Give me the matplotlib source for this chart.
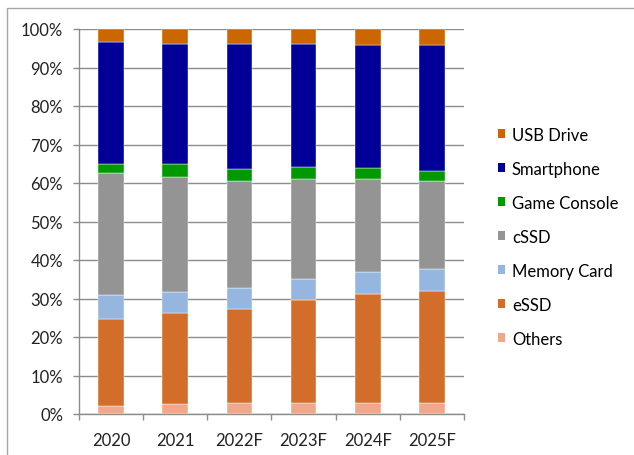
import matplotlib
matplotlib.use("Agg")
import matplotlib.pyplot as plt
from matplotlib.patches import Patch, Rectangle
import numpy as np

categories = ["2020", "2021", "2022F", "2023F", "2024F", "2025F"]
series_names = ["Others", "eSSD", "Memory Card", "cSSD", "Game Console", "Smartphone", "USB Drive"]
others = [2.2, 2.6, 2.9, 2.9, 2.9, 2.9]
essd = [22.6, 23.7, 24.5, 26.7, 28.3, 29.0]
memory_card = [6.1, 5.4, 5.4, 5.4, 5.6, 5.7]
cssd = [31.7, 29.9, 27.6, 26.1, 24.3, 22.8]
game_console = [2.4, 3.3, 3.3, 3.1, 2.8, 2.6]
smartphone = [31.5, 31.2, 32.4, 31.9, 31.9, 32.8]
usb_drive = [3.5, 3.9, 3.9, 3.9, 4.2, 4.2]
y_ticks = [0, 10, 20, 30, 40, 50, 60, 70, 80, 90, 100]
y_tick_labels = [f"{v}%" for v in y_ticks]

series = [others, essd, memory_card, cssd, game_console, smartphone, usb_drive]
colors = ["#F0A78A", "#D26E2A", "#95B7DF", "#949494", "#009900", "#000099", "#CC6600"]

plt.rcParams['font.family'] = ['Lato', 'DejaVu Sans']

fig = plt.figure(figsize=(6.34, 4.56), dpi=100)
fig.patches.append(Rectangle((7/634, -0.1), 1.0, (456-9)/456 + 0.1, transform=fig.transFigure,
                             fill=False, edgecolor="#A6A6A6", linewidth=1.0))
ax = fig.add_axes([79/634, 41/456, 385/634, 385/456])

x = np.arange(len(categories))
bottom = np.zeros(len(categories))
for name, vals, c in zip(series_names, series, colors):
    ax.bar(x, vals, bottom=bottom, width=0.4, color=c, label=name, zorder=3,
           edgecolor="white", linewidth=0.3)
    bottom += np.array(vals)

ax.set_xlim(-0.5, len(categories) - 0.5)
ax.set_ylim(0, 100)
ax.set_yticks(y_ticks)
ax.set_yticklabels(y_tick_labels, fontsize=12, color="#222222")
ax.yaxis.grid(True, color="#8C8C8C", linewidth=1.0, zorder=0)
ax.tick_params(axis='y', length=4.5, color="#8C8C8C", width=1.0, pad=7)

ax.set_xticks(x)
ax.set_xticklabels(categories, fontsize=12, color="#222222")
ax.set_xticks(np.arange(-0.5, len(categories), 1.0), minor=True)
ax.tick_params(axis='x', which='major', length=0, pad=13)
ax.tick_params(axis='x', which='minor', length=4.5, color="#8C8C8C", width=1.0)

for s in ["top", "right"]:
    ax.spines[s].set_visible(False)
for s in ["left", "bottom"]:
    ax.spines[s].set_color("#8C8C8C")
    ax.spines[s].set_linewidth(1.0)

handles = [Patch(facecolor=c, edgecolor="none", label=n) for n, c in zip(series_names, colors)][::-1]
fig.legend(handles=handles, loc="upper left", bbox_to_anchor=(491/634, 1 - 121/456),
           frameon=False, fontsize=12, handlelength=0.45, handleheight=0.45,
           handletextpad=0.4, labelspacing=1.08, borderaxespad=0)

fig.savefig("out.png", dpi=100)
